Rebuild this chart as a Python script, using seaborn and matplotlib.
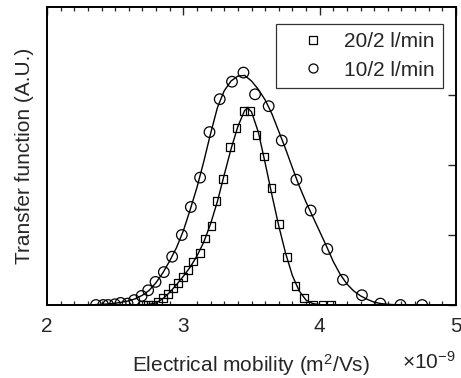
import numpy as np
import pandas as pd
import matplotlib
matplotlib.use("Agg")
import matplotlib.pyplot as plt
import seaborn as sns
from matplotlib.lines import Line2D
from matplotlib.ticker import MultipleLocator

# ---- data (x in units of 1e-9 m^2/Vs, y in arbitrary units) ----
sq_x = [2.705, 2.742, 2.779, 2.815, 2.852, 2.889, 2.925, 2.962, 2.999, 3.035,
        3.072, 3.121, 3.158, 3.207, 3.243, 3.292, 3.341, 3.390, 3.445, 3.487,
        3.536, 3.592, 3.646, 3.700, 3.760, 3.824, 3.885, 3.951, 4.020, 4.081]
sq_y = [0.0, 0.0, 0.0, 0.05, 0.10, 0.16, 0.24, 0.31, 0.40, 0.50,
        0.62, 0.74, 0.95, 1.13, 1.49, 1.80, 2.26, 2.53, 2.77, 2.77,
        2.43, 2.12, 1.67, 1.16, 0.69, 0.27, 0.10, 0.0, 0.0, 0.0]

ci_x = [2.359, 2.412, 2.449, 2.498, 2.540, 2.591, 2.640, 2.694, 2.742, 2.796,
        2.857, 2.918, 2.989, 3.055, 3.123, 3.192, 3.267, 3.357, 3.441, 3.526,
        3.626, 3.722, 3.829, 3.934, 4.056, 4.171, 4.310, 4.445, 4.593, 4.752]
ci_y = [0.0, 0.0, 0.0, 0.01, 0.03, 0.02, 0.07, 0.13, 0.21, 0.33,
        0.47, 0.69, 1.00, 1.40, 1.82, 2.47, 2.94, 3.19, 3.32, 3.01,
        2.84, 2.35, 1.79, 1.35, 0.80, 0.36, 0.14, 0.02, 0.0, 0.0]

# fitted curves
fit_sq_x = [2.70, 2.75, 2.80, 2.85, 2.90, 2.95, 3.00, 3.05, 3.10, 3.15, 3.20,
            3.25, 3.30, 3.35, 3.40, 3.45, 3.475, 3.50, 3.55, 3.60, 3.65, 3.70,
            3.75, 3.80, 3.85, 3.90, 3.95, 4.00, 4.10]
fit_sq_y = [0.0, 0.01, 0.03, 0.09, 0.18, 0.29, 0.41, 0.54, 0.70, 0.90, 1.16,
            1.48, 1.86, 2.23, 2.55, 2.78, 2.81, 2.76, 2.47, 2.03, 1.57, 1.13,
            0.74, 0.42, 0.20, 0.07, 0.02, 0.005, 0.0]

fit_ci_x = [2.30, 2.35, 2.40, 2.45, 2.50, 2.55, 2.60, 2.65, 2.70, 2.75, 2.80,
            2.85, 2.90, 2.95, 3.00, 3.05, 3.10, 3.15, 3.20, 3.25, 3.30, 3.35,
            3.40, 3.45, 3.50, 3.55, 3.60, 3.65, 3.70, 3.75, 3.80, 3.85, 3.90,
            3.95, 4.00, 4.05, 4.10, 4.15, 4.20, 4.25, 4.30, 4.35, 4.40, 4.45,
            4.50, 4.60, 4.75]
fit_ci_y = [0.0, 0.005, 0.01, 0.015, 0.025, 0.04, 0.06, 0.09, 0.14, 0.21, 0.32,
            0.46, 0.63, 0.82, 1.06, 1.36, 1.68, 2.05, 2.45, 2.82, 3.06, 3.20,
            3.27, 3.28, 3.20, 3.08, 2.93, 2.73, 2.48, 2.23, 1.96, 1.70, 1.47,
            1.26, 1.05, 0.84, 0.62, 0.44, 0.30, 0.20, 0.13, 0.08, 0.04, 0.02,
            0.01, 0.0, 0.0]

labels = ["20/2 l/min", "10/2 l/min"]
xticks = [2, 3, 4, 5]

pts_sq = pd.DataFrame({"x": sq_x, "y": sq_y})
pts_ci = pd.DataFrame({"x": ci_x, "y": ci_y})
fsq = pd.DataFrame({"x": fit_sq_x, "y": fit_sq_y})
fci = pd.DataFrame({"x": fit_ci_x, "y": fit_ci_y})

sns.set_style("white")
plt.rcParams["font.family"] = ["Liberation Sans", "DejaVu Sans"]
plt.rcParams["mathtext.fontset"] = "custom"
plt.rcParams["mathtext.rm"] = "Liberation Sans"
plt.rcParams["mathtext.it"] = "Liberation Sans"

txt = "#262626"
fig = plt.figure(figsize=(4.61, 3.78), dpi=100)
ax = fig.add_axes([47 / 461, (378 - 305) / 378, (456 - 47) / 461, (305 - 7) / 378])

sns.lineplot(data=fsq, x="x", y="y", ax=ax, color="black", lw=1.0, sort=False)
sns.lineplot(data=fci, x="x", y="y", ax=ax, color="black", lw=1.0, sort=False)
sns.scatterplot(data=pts_sq, x="x", y="y", ax=ax, marker="s", s=30,
                facecolor="none", edgecolor="black", linewidth=0.9, zorder=3)
sns.scatterplot(data=pts_ci, x="x", y="y", ax=ax, marker="o", s=58,
                facecolor="none", edgecolor="black", linewidth=0.9, zorder=3)

ax.set_xlim(2, 5)
ax.set_ylim(0, 298 / 70)
ax.set_xticks(xticks)
ax.set_xticklabels([str(t) for t in xticks])
ax.xaxis.set_minor_locator(MultipleLocator(0.1))
ax.set_yticks([0, 1, 2, 3])
ax.set_yticklabels([])
ax.tick_params(axis="both", which="major", direction="in", length=6, width=1.0,
               top=True, right=True, labelsize=15, labelcolor=txt, pad=9)
ax.tick_params(axis="x", which="minor", direction="in", length=3, width=0.9,
               top=True, bottom=True)
for sp in ax.spines.values():
    sp.set_linewidth(1.4)
    sp.set_color("black")

ax.set_xlabel("Electrical mobility (m$^2$/Vs)", fontsize=15, color=txt, labelpad=11)
ax.set_ylabel("Transfer function (A.U.)", fontsize=15, color=txt, labelpad=0.5)
fig.text(456 / 461, 1 - 362 / 378, r"$\times$10$^{-9}$", fontsize=15, color=txt,
         ha="right", va="center")

handles = [
    Line2D([], [], ls="", marker="s", ms=6, mfc="none", mec="black", mew=0.9),
    Line2D([], [], ls="", marker="o", ms=6.5, mfc="none", mec="black", mew=0.9),
]
leg = ax.legend(handles, labels, loc="upper right", bbox_to_anchor=(0.967, 0.943),
                fontsize=15, frameon=True, fancybox=False, edgecolor="black",
                borderpad=0.4, handletextpad=0.05, labelspacing=0.45,
                handlelength=2.8, borderaxespad=0.0)
leg.get_frame().set_linewidth(0.9)
for t in leg.get_texts():
    t.set_color(txt)

fig.savefig("out.png", dpi=100)
